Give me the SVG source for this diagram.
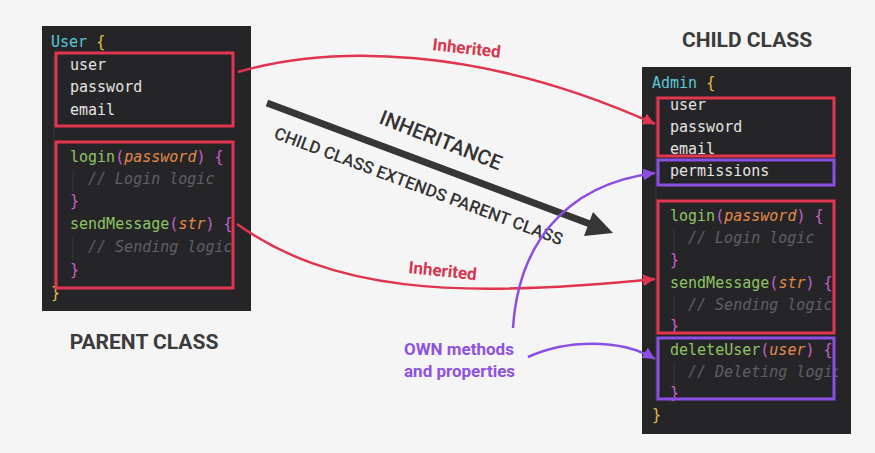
<svg xmlns="http://www.w3.org/2000/svg" width="875" height="453" viewBox="0 0 875 453">
<defs>
<style>
.panel{fill:#252527}
.code{font-family:"DejaVu Sans Mono",monospace;font-size:15px;fill:#e4e4e4}
.cls{fill:#5cc7d6}
.yb{fill:#e5c046}
.fn{fill:#8fc462}
.pn{fill:#c762cf}
.pa{fill:#e3894a;font-style:italic}
.cm{fill:#5e6065;font-style:italic}
.guide{stroke:#38383b;stroke-width:1}
.rbox{fill:none;stroke:#e2354f;stroke-width:3}
.pbox{fill:none;stroke:#8c4fe4;stroke-width:3}
.title{font-family:Roboto,"Liberation Sans",sans-serif;font-weight:bold;font-size:21px;fill:#3b3b3b}
.inh{font-family:Roboto,"Liberation Sans",sans-serif;font-weight:bold;font-size:17px;fill:#d8354f}
.own{font-family:Roboto,"Liberation Sans",sans-serif;font-weight:bold;font-size:17px;fill:#8f52e0}
.dark{font-family:Roboto,"Liberation Sans",sans-serif;fill:#333333}
.rc{fill:none;stroke:#e0344f;stroke-width:2.5}
.pc{fill:none;stroke:#8c4fe4;stroke-width:2.5}
</style>
<marker id="ar" viewBox="0 0 10 10" refX="10" refY="5" markerWidth="12" markerHeight="12" markerUnits="userSpaceOnUse" orient="auto">
<path d="M0,0 L10,5 L0,10 z" fill="#e0344f"/>
</marker>
<marker id="ap" viewBox="0 0 10 10" refX="10" refY="5" markerWidth="12" markerHeight="12" markerUnits="userSpaceOnUse" orient="auto">
<path d="M0,0 L10,5 L0,10 z" fill="#8c4fe4"/>
</marker>
<clipPath id="clipL"><rect x="42" y="26" width="199" height="286"/></clipPath>
<clipPath id="clipR"><rect x="642" y="67" width="196" height="367"/></clipPath>
</defs>
<rect width="875" height="453" fill="#f5f5f5"/>

<g id="parent-class">
<rect class="panel" x="42" y="26" width="209" height="285"/>
<g clip-path="url(#clipL)">
<line class="guide" x1="54" y1="56" x2="54" y2="288"/>
<line class="guide" x1="73" y1="170" x2="73" y2="192"/>
<line class="guide" x1="73" y1="237" x2="73" y2="260"/>
<text class="code" x="51" y="47"><tspan class="cls">User</tspan> <tspan class="yb">{</tspan></text>
<text class="code" x="70" y="70">user</text>
<text class="code" x="70" y="92">password</text>
<text class="code" x="70" y="115">email</text>
<text class="code" x="70" y="162"><tspan class="fn">login</tspan><tspan class="pn">(</tspan><tspan class="pa">password</tspan><tspan class="pn">)</tspan> <tspan class="pn">{</tspan></text>
<text class="code cm" x="88" y="184">// Login logic</text>
<text class="code pn" x="70" y="206">}</text>
<text class="code" x="70" y="229"><tspan class="fn">sendMessage</tspan><tspan class="pn">(</tspan><tspan class="pa">str</tspan><tspan class="pn">)</tspan> <tspan class="pn">{</tspan></text>
<text class="code cm" x="88" y="252">// Sending logic</text>
<text class="code pn" x="70" y="275">}</text>
<text class="code yb" x="51" y="298">}</text>
</g>
<rect class="rbox" x="56" y="53" width="177" height="73"/>
<rect class="rbox" x="56" y="142" width="177" height="146"/>
</g>

<g id="child-class">
<rect class="panel" x="642" y="67" width="209" height="367"/>
<g clip-path="url(#clipR)">
<line class="guide" x1="656" y1="96" x2="656" y2="402"/>
<line class="guide" x1="674" y1="230" x2="674" y2="252"/>
<line class="guide" x1="674" y1="297" x2="674" y2="320"/>
<line class="guide" x1="674" y1="364" x2="674" y2="386"/>
<text class="code" x="652" y="88"><tspan class="cls">Admin</tspan> <tspan class="yb">{</tspan></text>
<text class="code" x="670" y="110">user</text>
<text class="code" x="670" y="132">password</text>
<text class="code" x="670" y="154">email</text>
<text class="code" x="670" y="176">permissions</text>
<text class="code" x="670" y="221"><tspan class="fn">login</tspan><tspan class="pn">(</tspan><tspan class="pa">password</tspan><tspan class="pn">)</tspan> <tspan class="pn">{</tspan></text>
<text class="code cm" x="688" y="243">// Login logic</text>
<text class="code pn" x="670" y="265">}</text>
<text class="code" x="670" y="288"><tspan class="fn">sendMessage</tspan><tspan class="pn">(</tspan><tspan class="pa">str</tspan><tspan class="pn">)</tspan> <tspan class="pn">{</tspan></text>
<text class="code cm" x="688" y="310">// Sending logic</text>
<text class="code pn" x="670" y="331">}</text>
<text class="code" x="670" y="355"><tspan class="fn">deleteUser</tspan><tspan class="pn">(</tspan><tspan class="pa">user</tspan><tspan class="pn">)</tspan> <tspan class="pn">{</tspan></text>
<text class="code cm" x="688" y="377">// Deleting logic</text>
<text class="code pn" x="670" y="398">}</text>
<text class="code yb" x="652" y="420">}</text>
</g>
<rect class="rbox" x="658" y="98" width="176" height="58"/>
<rect class="pbox" x="658" y="160" width="176" height="25"/>
<rect class="rbox" x="658" y="201" width="176" height="132"/>
<rect class="pbox" x="658" y="338" width="176" height="61"/>
</g>

<g id="labels">
<text class="title" x="747" y="47" text-anchor="middle">CHILD CLASS</text>
<text class="title" x="144" y="349" text-anchor="middle">PARENT CLASS</text>
<text class="inh" x="432" y="50" transform="rotate(6.5 432 50)">Inherited</text>
<text class="inh" x="408" y="273" transform="rotate(6 408 273)">Inherited</text>
<text class="own" x="404" y="355">OWN methods</text>
<text class="own" x="404" y="377">and properties</text>
<text class="dark" x="378" y="123" font-size="20.5" font-weight="500" transform="rotate(21.5 378 123)">INHERITANCE</text>
<text class="dark" x="273" y="138" font-size="17" font-weight="500" transform="rotate(20.5 273 138)">CHILD CLASS EXTENDS PARENT CLASS</text>
</g>

<g id="connectors">
<line x1="267" y1="103" x2="590" y2="224" stroke="#363636" stroke-width="7"/>
<polygon points="613,233 593,212 584,236" fill="#363636"/>
<path class="rc" d="M238,72 C330,45 480,45 655,124" marker-end="url(#ar)"/>
<path class="rc" d="M237,224 C330,290 450,300 655,279" marker-end="url(#ar)"/>
<path class="pc" d="M513,328 C518,250 560,185 655,173" marker-end="url(#ap)"/>
<path class="pc" d="M528,357 C565,340 620,338 655,359" marker-end="url(#ap)"/>
</g>
</svg>
